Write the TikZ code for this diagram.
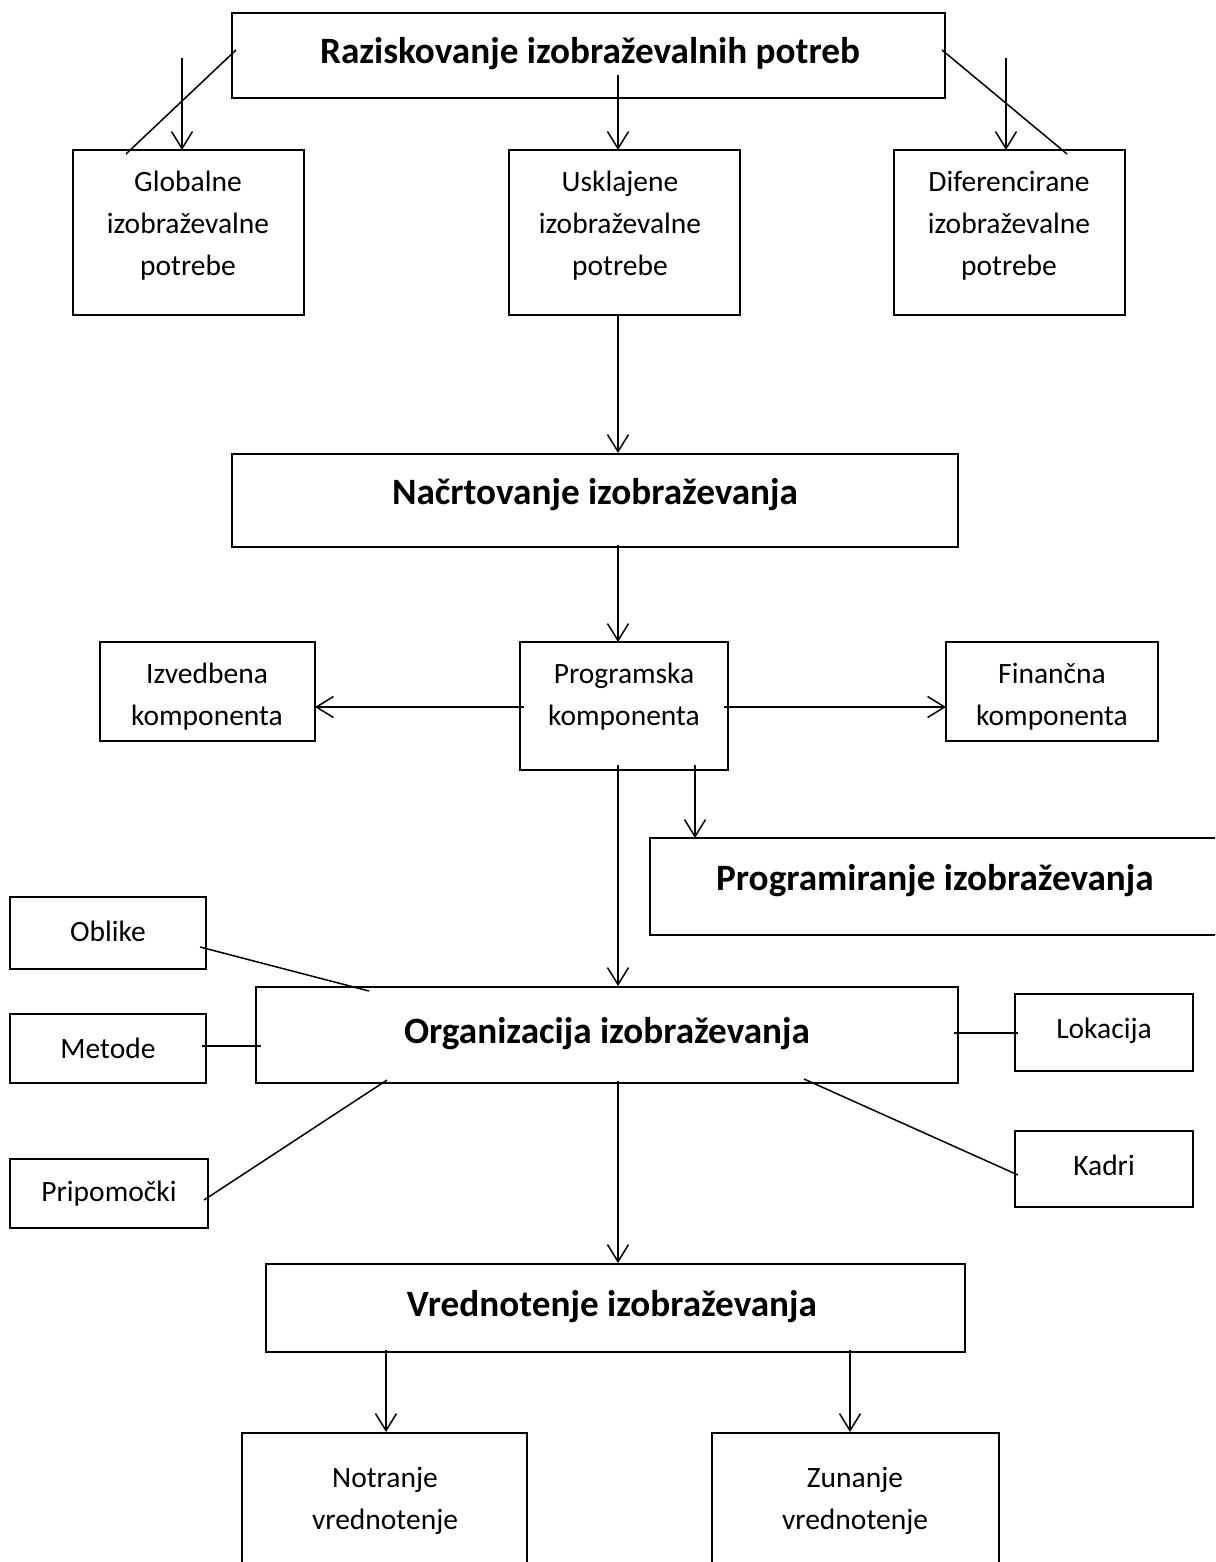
\documentclass[tikz,border=0pt]{standalone}
\usepackage{fontspec}
\setmainfont{Carlito}
\usetikzlibrary{arrows.meta}
\tikzset{
  box/.style={draw=black, line width=1.2pt, rectangle, inner sep=0pt},
  reg/.style={font=\fontsize{14.75}{21}\selectfont, align=center, inner sep=0pt},
  ttl/.style={font=\bfseries\fontsize{18.6}{22}\selectfont, inner sep=0pt},
  conn/.style={draw=black, line width=0.75pt},
  arr/.style={conn, -{Straight Barb[length=8.5pt, width=10.5pt, line width=0.75pt]}},
}
\begin{document}
\begin{tikzpicture}[x=0.5pt, y=-0.5pt]
\useasboundingbox (0,0) rectangle (1215,1562);
\clip (0,0) rectangle (1215,1562);
\fill[white] (0,0) rectangle (1215,1562);

% boxes (corners in px)
\path[box] (232,13) rectangle (945,98) node[pos=0.5] (R) {};
\path[box] (73,150) rectangle (304,315) node[pos=0.5] (G) {};
\path[box] (509,150) rectangle (740,315) node[pos=0.5] (U) {};
\path[box] (894,150) rectangle (1125,315) node[pos=0.5] (D) {};
\path[box] (232,454) rectangle (958,547) node[pos=0.5] (N) {};
\path[box] (100,642) rectangle (315,741) node[pos=0.5] (I) {};
\path[box] (520,642) rectangle (728,770) node[pos=0.5] (P) {};
\path[box] (946,642) rectangle (1158,741) node[pos=0.5] (F) {};
\path[box] (650,838) rectangle (1240,935) node[pos=0.5] (PR) {};
\path[box] (10,897) rectangle (206,969) node[pos=0.5] (OB) {};
\path[box] (10,1014) rectangle (206,1083) node[pos=0.5] (ME) {};
\path[box] (10,1159) rectangle (208,1228) node[pos=0.5] (PP) {};
\path[box] (256,987) rectangle (958,1083) node[pos=0.5] (O) {};
\path[box] (1015,994) rectangle (1193,1071) node[pos=0.5] (L) {};
\path[box] (1015,1131) rectangle (1193,1207) node[pos=0.5] (K) {};
\path[box] (266,1264) rectangle (965,1352) node[pos=0.5] (V) {};
\path[box] (242,1433) rectangle (527,1600) node[pos=0.5] (NV) {};
\path[box] (712,1433) rectangle (999,1600) node[pos=0.5] (ZV) {};

% texts
\node[ttl] (tR) at (590,54) {Raziskovanje izobraževalnih potreb};
\node[reg] (tG) at (188,226) {Globalne\\izobraževalne\\potrebe};
\node[reg] (tU) at (620,226) {Usklajene\\izobraževalne\\potrebe};
\node[reg] (tD) at (1009,226) {Diferencirane\\izobraževalne\\potrebe};
\node[ttl] (tN) at (595,495) {Načrtovanje izobraževanja};
\node[reg] (tI) at (207,697) {Izvedbena\\komponenta};
\node[reg] (tP) at (624,697) {Programska\\komponenta};
\node[reg] (tF) at (1052,697) {Finančna\\komponenta};
\node[ttl] (tPR) at (935,881) {Programiranje izobraževanja};
\node[reg] (tOB) at (108,931) {Oblike};
\node[reg] (tME) at (108,1048) {Metode};
\node[reg] (tPP) at (109,1194) {Pripomočki};
\node[ttl] (tO) at (607,1034) {Organizacija izobraževanja};
\node[reg] (tL) at (1104,1031) {Lokacija};
\node[reg] (tK) at (1104,1165) {Kadri};
\node[ttl] (tV) at (612,1307) {Vrednotenje izobraževanja};
\node[reg] (tNV) at (385,1501) {Notranje\\vrednotenje};
\node[reg] (tZV) at (855,1501) {Zunanje\\vrednotenje};

% connector end points
\coordinate (a1) at (182,58);   \coordinate (b1) at (182,150);
\coordinate (a2) at (618,75);   \coordinate (b2) at (618,150);
\coordinate (a3) at (1006,58);  \coordinate (b3) at (1006,150);
\coordinate (d1a) at (236,50);  \coordinate (d1b) at (126,154);
\coordinate (d2a) at (942,50);  \coordinate (d2b) at (1067,154);
\coordinate (a4) at (618,315);  \coordinate (b4) at (618,453);
\coordinate (a5) at (618,545);  \coordinate (b5) at (618,642);
\coordinate (a6) at (524,707);  \coordinate (b6) at (315,707);
\coordinate (a7) at (724,707);  \coordinate (b7) at (946,707);
\coordinate (a8) at (618,765);  \coordinate (b8) at (618,986);
\coordinate (a9) at (695,765);  \coordinate (b9) at (695,838);
\coordinate (l1a) at (200,947); \coordinate (l1b) at (369,991);
\coordinate (l2a) at (202,1046);\coordinate (l2b) at (261,1046);
\coordinate (l3a) at (204,1200);\coordinate (l3b) at (387,1080);
\coordinate (l4a) at (954,1033);\coordinate (l4b) at (1018,1033);
\coordinate (l5a) at (804,1079);\coordinate (l5b) at (1018,1175);
\coordinate (a10) at (618,1081);\coordinate (b10) at (618,1263);
\coordinate (a11) at (386,1350);\coordinate (b11) at (386,1432);
\coordinate (a12) at (850,1350);\coordinate (b12) at (850,1432);

\draw[arr] (a1) -- (b1);
\draw[arr] (a2) -- (b2);
\draw[arr] (a3) -- (b3);
\draw[conn] (d1a) -- (d1b);
\draw[conn] (d2a) -- (d2b);
\draw[arr] (a4) -- (b4);
\draw[arr] (a5) -- (b5);
\draw[arr] (a6) -- (b6);
\draw[arr] (a7) -- (b7);
\draw[arr] (a8) -- (b8);
\draw[arr] (a9) -- (b9);
\draw[conn] (l1a) -- (l1b);
\draw[conn] (l2a) -- (l2b);
\draw[conn] (l3a) -- (l3b);
\draw[conn] (l4a) -- (l4b);
\draw[conn] (l5a) -- (l5b);
\draw[arr] (a10) -- (b10);
\draw[arr] (a11) -- (b11);
\draw[arr] (a12) -- (b12);
\end{tikzpicture}
\end{document}
